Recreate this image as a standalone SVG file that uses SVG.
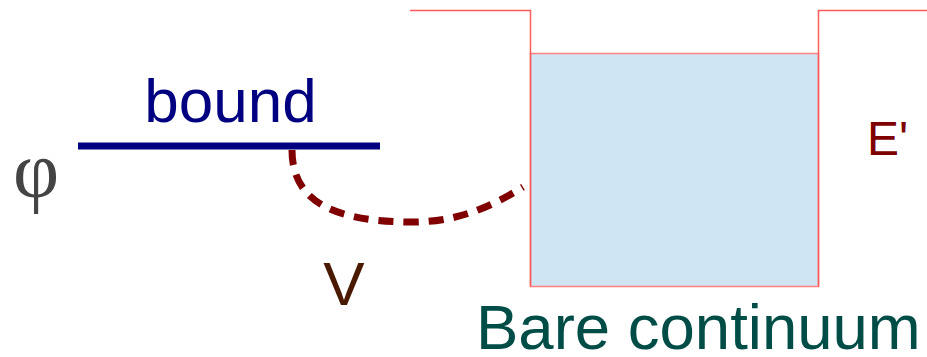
<svg xmlns="http://www.w3.org/2000/svg" width="927" height="357" viewBox="0 0 927 357">
<style>
.t{font-family:"Liberation Sans",Arial,sans-serif}
.well{fill:none;stroke:#ff5a5a;stroke-width:1.5}
</style>
<rect width="927" height="357" fill="#fff"/>
<g id="continuum">
<rect x="530.5" y="53.5" width="288" height="233" fill="#cfe5f3" stroke="#ff8080" stroke-width="1.5"/>
<path class="well" d="M410 10.5 H530.5 V286.5 M818.5 286.5 V10.5 H927"/>
<text class="t" x="476" y="349" font-size="63.5" fill="#004d48">Bare continuum</text>
<text class="t" x="867" y="155" font-size="48" fill="#800000">E'</text>
</g>
<g id="bound">
<line x1="78" y1="146" x2="380" y2="146" stroke="#000080" stroke-width="7"/>
<text class="t" x="230.5" y="122" font-size="62" fill="#000080" text-anchor="middle">bound</text>
<text x="36" y="197" font-family="'Liberation Serif','DejaVu Serif',serif" font-size="80" fill="#444" text-anchor="middle">φ</text>
</g>
<g id="connectors">
<path d="M292 150 C292 205 340 222 413 222 C462 222 497 203 523 187" fill="none" stroke="#800000" stroke-width="7" stroke-dasharray="15 10"/>
<text class="t" x="344" y="305" font-size="62" fill="#4a1a00" text-anchor="middle">V</text>
</g>
</svg>
